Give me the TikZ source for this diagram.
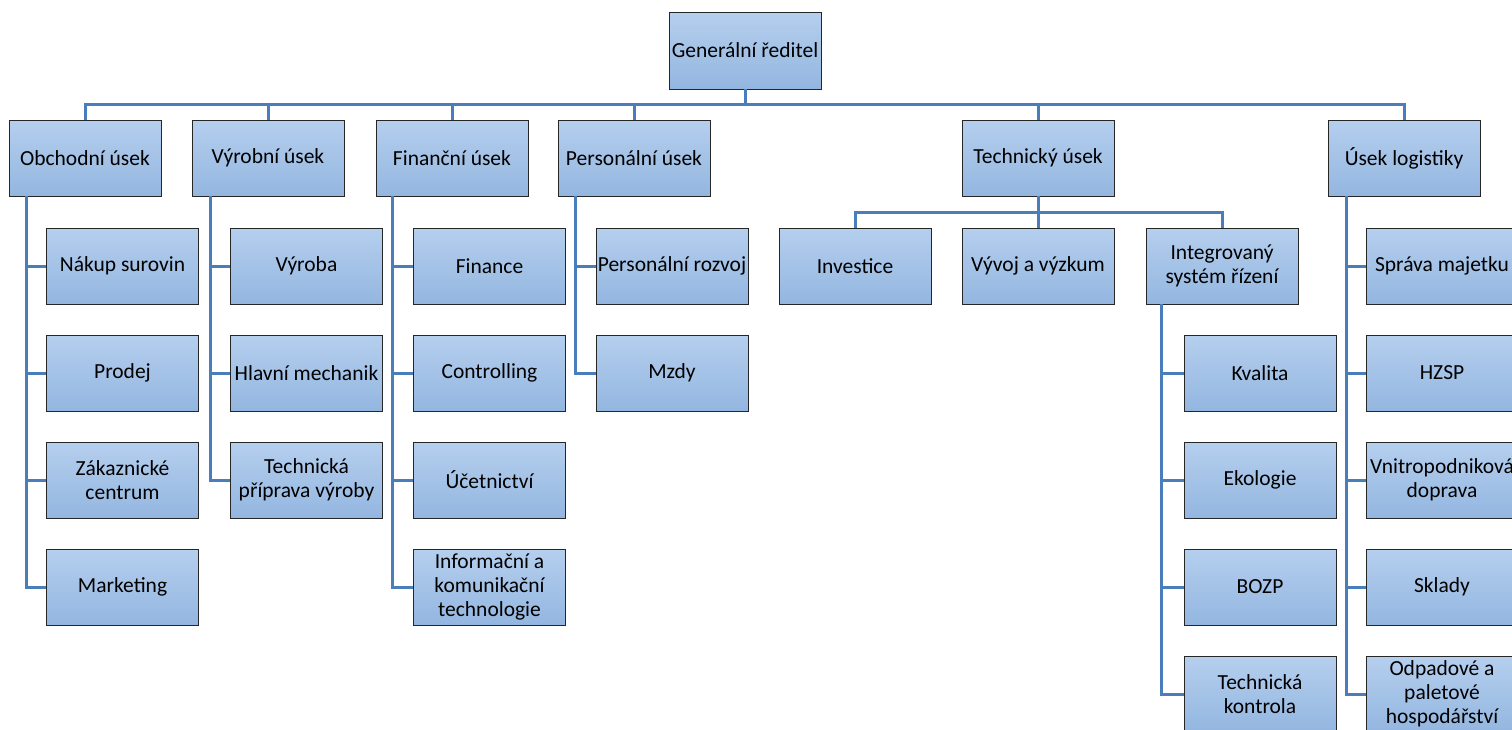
\documentclass[tikz,border=0pt]{standalone}
\usepackage{fontspec}
\setmainfont{Carlito}
\definecolor{boxtop}{HTML}{B5CFEE}
\definecolor{boxbot}{HTML}{93B6E0}
\definecolor{conn}{HTML}{4A7EBB}
\tikzset{
  box/.style={draw=black!85, line width=0.9pt, top color=boxtop, bottom color=boxbot,
    minimum width=152, minimum height=76, inner sep=1pt, align=center,
    font=\fontsize{21.5}{24}\selectfont},
  conline/.style={draw=conn, line width=3pt}
}
\begin{document}
\begin{tikzpicture}[x=1pt,y=-1pt]
\useasboundingbox (0,0) rectangle (1512,729);
% top
\node[box, minimum height=77] (gr) at (745,50.5) {Generální ředitel};
\coordinate (bus) at (745,104);
% level 2
\node[box] (ob) at (85,158) {Obchodní úsek};
\node[box] (vy) at (268,158) {Výrobní úsek};
\node[box] (fi) at (452,158) {Finanční úsek};
\node[box] (pe) at (634,158) {Personální úsek};
\node[box] (te) at (1038,158) {Technický úsek};
\node[box] (lo) at (1404,158) {Úsek logistiky};
% Obchodní children
\node[box] (ob1) at (122.5,266) {Nákup surovin};
\node[box] (ob2) at (122.5,373) {Prodej};
\node[box] (ob3) at (122.5,480) {Zákaznické\\centrum};
\node[box] (ob4) at (122.5,587) {Marketing};
% Výrobní children
\node[box] (vy1) at (306.5,266) {Výroba};
\node[box] (vy2) at (306.5,373) {Hlavní mechanik};
\node[box] (vy3) at (306.5,480) {Technická\\příprava výroby};
% Finanční children
\node[box] (fi1) at (489.5,266) {Finance};
\node[box] (fi2) at (489.5,373) {Controlling};
\node[box] (fi3) at (489.5,480) {Účetnictví};
\node[box] (fi4) at (489.5,587) {Informační a\\komunikační\\technologie};
% Personální children
\node[box] (pe1) at (672,266) {Personální rozvoj};
\node[box] (pe2) at (672,373) {Mzdy};
% Technický children
\node[box] (te1) at (855,266) {Investice};
\node[box] (te2) at (1038,266) {Vývoj a výzkum};
\node[box] (te3) at (1222,266) {Integrovaný\\systém řízení};
\coordinate (tbus) at (1038,212);
% Integrovaný children
\node[box] (is1) at (1260,373) {Kvalita};
\node[box] (is2) at (1260,480) {Ekologie};
\node[box] (is3) at (1260,587) {BOZP};
\node[box] (is4) at (1260,694) {Technická\\kontrola};
% logistiky children
\node[box] (lo1) at (1442,266) {Správa majetku};
\node[box] (lo2) at (1442,373) {HZSP};
\node[box] (lo3) at (1442,480) {Vnitropodniková\\doprava};
\node[box] (lo4) at (1442,587) {Sklady};
\node[box] (lo5) at (1442,694) {Odpadové a\\paletové\\hospodářství};
% connectors from top
\foreach \n in {ob,vy,fi,pe,te,lo}
  \draw[conline] (gr.south) |- (\n.north |- bus) -- (\n.north);
\foreach \n in {te1,te2,te3}
  \draw[conline] (te.south) |- (\n.north |- tbus) -- (\n.north);
% side lines
\coordinate (obl) at ([xshift=18]ob.south west);
\coordinate (vyl) at ([xshift=19]vy.south west);
\coordinate (fil) at ([xshift=17]fi.south west);
\coordinate (pel) at ([xshift=18]pe.south west);
\coordinate (lol) at ([xshift=19]lo.south west);
\coordinate (isl) at ([xshift=16]te3.south west);
\foreach \c in {ob1,ob2,ob3,ob4} \draw[conline] (obl) |- (\c.west);
\foreach \c in {vy1,vy2,vy3} \draw[conline] (vyl) |- (\c.west);
\foreach \c in {fi1,fi2,fi3,fi4} \draw[conline] (fil) |- (\c.west);
\foreach \c in {pe1,pe2} \draw[conline] (pel) |- (\c.west);
\foreach \c in {lo1,lo2,lo3,lo4,lo5} \draw[conline] (lol) |- (\c.west);
\foreach \c in {is1,is2,is3,is4} \draw[conline] (isl) |- (\c.west);
\end{tikzpicture}
\end{document}
